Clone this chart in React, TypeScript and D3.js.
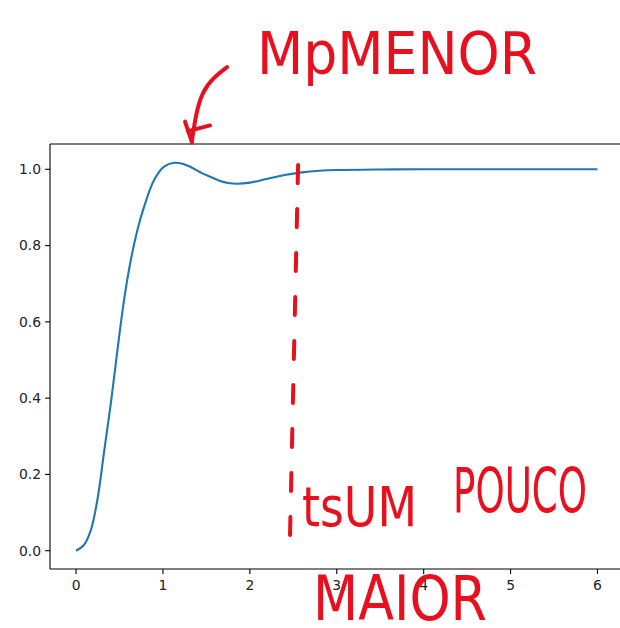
import React from 'react';
import * as d3 from 'd3';

// step response
const timeS = [0, 0.09, 0.17, 0.245, 0.32, 0.4, 0.476, 0.552, 0.63, 0.706, 0.783, 0.898, 1.013, 1.128, 1.2, 1.3, 1.45, 1.55, 1.65, 1.75, 1.86, 2.0, 2.2, 2.4, 2.6, 2.8, 3.0, 3.5, 4, 5, 6];
const response = [0, 0.015, 0.054, 0.133, 0.255, 0.386, 0.526, 0.657, 0.762, 0.841, 0.902, 0.972, 1.007, 1.017, 1.016, 1.008, 0.99, 0.98, 0.97, 0.964, 0.962, 0.965, 0.975, 0.985, 0.992, 0.996, 0.998, 0.9995, 1.0, 1.0, 1.0];

const xTicks = [0, 1, 2, 3, 4, 5, 6];
const yTicks = [0, 0.2, 0.4, 0.6, 0.8, 1.0];

// hand-drawn settling-time marker (t, y) top -> bottom
const settleLine = [[2.555, 1.011], [2.46, 0.02]];
// hand-drawn arrow to the overshoot peak
const arrowPath = [[1.738, 1.268], [1.461, 1.2], [1.335, 1.077]];
const arrowHead = [[[1.254, 1.125], [1.335, 1.07]], [[1.29, 1.1], [1.542, 1.115]]];

const notes = ['MpMENOR', 'tsUM', 'POUCO', 'MAIOR'];

const W = 620;
const H = 628;
const margin = { left: 50, top: 144, bottom: 569 };
const RED = '#e8101e';

export default function App() {
  const x = d3.scaleLinear().domain([-0.3, 6.3]).range([margin.left, margin.left + 6.6 * 86.9]);
  const y = d3.scaleLinear().domain([0, 1]).range([550.7, 169.3]);

  const line = d3.line<number>()
    .x((d, i) => x(timeS[i]))
    .y(d => y(d))
    .curve(d3.curveCatmullRom.alpha(0.5));

  const arrow = d3.line<number[]>()
    .x(d => x(d[0]))
    .y(d => y(d[1]))
    .curve(d3.curveNatural);

  const font = '"DejaVu Sans", sans-serif';
  const hand = '"DejaVu Sans Condensed", "Liberation Sans Narrow", "DejaVu Sans", sans-serif';

  return (
    <svg width={W} height={H} style={{ position: 'absolute', left: 0, top: 0 }} fontFamily={font}>
      <rect width={W} height={H} fill="#fff" />

      <path d={line(response) || ''} fill="none" stroke="#1f77b4" strokeWidth={2.1} />

      {/* spines */}
      <line x1={margin.left} x2={W} y1={margin.top} y2={margin.top} stroke="#000" strokeWidth={1.1} />
      <line x1={margin.left} x2={W} y1={margin.bottom} y2={margin.bottom} stroke="#000" strokeWidth={1.1} />
      <line x1={margin.left} x2={margin.left} y1={margin.top} y2={margin.bottom} stroke="#000" strokeWidth={1.1} />

      {xTicks.map(t => (
        <g key={'x' + t} transform={`translate(${x(t)},${margin.bottom})`}>
          <line y2={4.9} stroke="#000" strokeWidth={1.1} />
          <text y={21} textAnchor="middle" fontSize={13.9} fill="#222">{t}</text>
        </g>
      ))}
      {yTicks.map(t => (
        <g key={'y' + t} transform={`translate(${margin.left},${y(t)})`}>
          <line x2={-4.9} stroke="#000" strokeWidth={1.1} />
          <text x={-9} dy="0.35em" textAnchor="end" fontSize={13.9} fill="#222">{t.toFixed(1)}</text>
        </g>
      ))}

      {/* hand annotations */}
      <g stroke={RED} fill="none" strokeWidth={4} strokeLinecap="round">
        <line
          x1={x(settleLine[0][0])} y1={y(settleLine[0][1])}
          x2={x(settleLine[1][0])} y2={y(settleLine[1][1])}
          strokeDasharray="18 26"
        />
        <path d={arrow(arrowPath) || ''} />
        {arrowHead.map((seg, i) => (
          <path key={i} d={arrow(seg) || ''} />
        ))}
      </g>

      <g fill={RED} fontFamily={hand} fontWeight={400}>
        <text x={257} y={74} fontSize={58} textLength={280} lengthAdjust="spacingAndGlyphs">
          {notes[0]}
        </text>
        <text x={302} y={526} fontSize={56} textLength={115} lengthAdjust="spacingAndGlyphs">
          {notes[1]}
        </text>
        <text x={453} y={512} fontSize={62} textLength={134} lengthAdjust="spacingAndGlyphs">
          {notes[2]}
        </text>
        <text x={313} y={620} fontSize={62} textLength={174} lengthAdjust="spacingAndGlyphs">
          {notes[3]}
        </text>
      </g>
    </svg>
  );
}
